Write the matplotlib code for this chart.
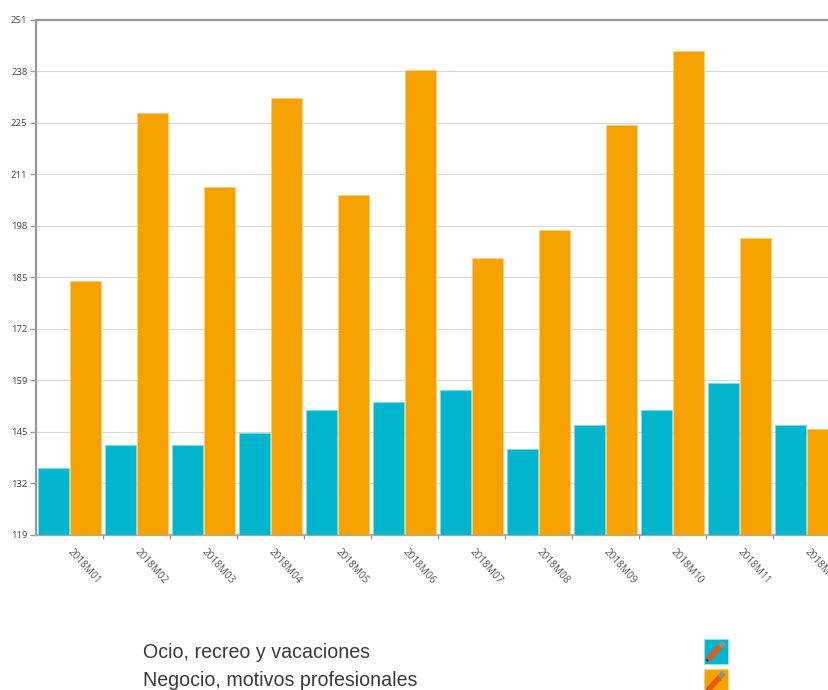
import numpy as np
import matplotlib
matplotlib.use('Agg')
import matplotlib.pyplot as plt
from matplotlib.patches import Rectangle
from matplotlib.lines import Line2D

months = ['2018M01', '2018M02', '2018M03', '2018M04', '2018M05', '2018M06',
          '2018M07', '2018M08', '2018M09', '2018M10', '2018M11', '2018M12']
ocio = [136.2, 142, 142, 145, 151, 153, 156, 141, 147, 151, 158, 147]
negocio = [184, 227, 208, 231, 206, 238, 190, 197, 224, 243, 195, 146]
ytick_labels = ['119', '132', '145', '159', '172', '185', '198', '211', '225', '238', '251']
legend_names = ['Ocio, recreo y vacaciones', 'Negocio, motivos profesionales']

TEAL = '#00b5cc'
ORANGE = '#f5a100'
W, H = 829, 690

fig = plt.figure(figsize=(W / 100, H / 100), dpi=100)
# axes runs off the right edge on purpose, last month is cut in the reference
ax = fig.add_axes([35.8 / W, 1 - 534.7 / H, 804 / W, 515 / H])

x = np.arange(len(months))
ax.bar(x - 0.24, ocio, width=0.465, color=TEAL, edgecolor='#7fdbe6', linewidth=0.5, zorder=3)
ax.bar(x + 0.24, negocio, width=0.465, color=ORANGE, edgecolor='#fad080', linewidth=0.5, zorder=3)

ax.set_xlim(-0.5, len(months) - 0.5)
ax.set_ylim(119, 251)

yt = np.linspace(119, 251, len(ytick_labels))
ax.set_yticks(yt)
ax.set_yticklabels(ytick_labels, fontsize=6.8, color='#444444', family='Open Sans')
ax.tick_params(axis='y', length=4, width=1, color='#999999', pad=2)
ax.grid(axis='y', color='#d8d8d8', linewidth=0.8, zorder=0)

# ticks sit between months, labels in the middle of each month
ax.set_xticks(x[:-1] + 0.5)
ax.set_xticklabels([])
ax.tick_params(axis='x', which='major', length=3, width=1, color='#999999')
ax.set_xticks(x, minor=True)
ax.set_xticklabels(months, minor=True, rotation=-48, ha='left', va='center',
                   rotation_mode='anchor', fontsize=7.2, color='#555555', family='Open Sans')
ax.tick_params(axis='x', which='minor', length=0, pad=11)

for s in ['left', 'top']:
    ax.spines[s].set_color('#999999')
    ax.spines[s].set_linewidth(1.6)
ax.spines['bottom'].set_color('#aaaaaa')
ax.spines['bottom'].set_linewidth(1.6)
ax.spines['right'].set_visible(False)

# legend: names on the left, coloured pencil buttons on the right
for name, y, col, ytop in zip(legend_names, [652, 681], [TEAL, ORANGE], [638.5, 669]):
    fig.text(143 / W, 1 - y / H, name, fontsize=14.1, color='#3a3a3a',
             family='Liberation Sans', va='center', ha='left')
    fig.add_artist(Rectangle((704 / W, 1 - (ytop + 25) / H), 24 / W, 25 / H,
                             transform=fig.transFigure, facecolor=col,
                             edgecolor='#9fe0ea' if col == TEAL else '#fbd27f', linewidth=0.6))
    fig.add_artist(Line2D([708 / W, 720 / W], [1 - (ytop + 21) / H, 1 - (ytop + 8) / H],
                          transform=fig.transFigure, color='#ea5a12', linewidth=4,
                          solid_capstyle='butt'))
    fig.add_artist(Line2D([720 / W, 724 / W], [1 - (ytop + 8) / H, 1 - (ytop + 4) / H],
                          transform=fig.transFigure, color='#909090', linewidth=4,
                          solid_capstyle='butt'))
    fig.add_artist(Line2D([706.5 / W, 708 / W], [1 - (ytop + 22.5) / H, 1 - (ytop + 21) / H],
                          transform=fig.transFigure, color='#333333', linewidth=2,
                          solid_capstyle='butt'))

fig.savefig('out.png', dpi=100)
